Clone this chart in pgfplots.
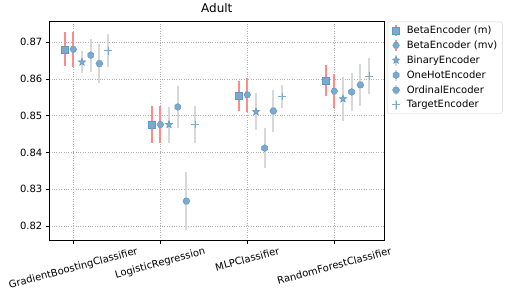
\documentclass[border=0pt]{standalone}
\usepackage{graphicx}
\usepackage{fontspec}
\setmainfont{DejaVu Sans}
\usepackage{pgfplots}
\pgfplotsset{compat=1.18}
\definecolor{mblue}{RGB}{122,170,208}
\definecolor{medge}{RGB}{98,150,196}
\definecolor{ered}{RGB}{250,140,140}
\definecolor{egray}{RGB}{216,216,216}
\definecolor{gridc}{RGB}{176,176,176}
\pgfdeclareplotmark{fstar}{%
  \pgfpathmoveto{\pgfqpointpolar{90}{\pgfplotmarksize}}%
  \pgfpathlineto{\pgfqpointpolar{126}{0.42\pgfplotmarksize}}%
  \pgfpathlineto{\pgfqpointpolar{162}{\pgfplotmarksize}}%
  \pgfpathlineto{\pgfqpointpolar{198}{0.42\pgfplotmarksize}}%
  \pgfpathlineto{\pgfqpointpolar{234}{\pgfplotmarksize}}%
  \pgfpathlineto{\pgfqpointpolar{270}{0.42\pgfplotmarksize}}%
  \pgfpathlineto{\pgfqpointpolar{306}{\pgfplotmarksize}}%
  \pgfpathlineto{\pgfqpointpolar{342}{0.42\pgfplotmarksize}}%
  \pgfpathlineto{\pgfqpointpolar{18}{\pgfplotmarksize}}%
  \pgfpathlineto{\pgfqpointpolar{54}{0.42\pgfplotmarksize}}%
  \pgfpathclose\pgfusepathqfillstroke}
\pgfdeclareplotmark{hexa}{%
  \pgfpathmoveto{\pgfqpointpolar{90}{\pgfplotmarksize}}%
  \pgfpathlineto{\pgfqpointpolar{150}{\pgfplotmarksize}}%
  \pgfpathlineto{\pgfqpointpolar{210}{\pgfplotmarksize}}%
  \pgfpathlineto{\pgfqpointpolar{270}{\pgfplotmarksize}}%
  \pgfpathlineto{\pgfqpointpolar{330}{\pgfplotmarksize}}%
  \pgfpathlineto{\pgfqpointpolar{30}{\pgfplotmarksize}}%
  \pgfpathclose\pgfusepathqfillstroke}
\pgfdeclareplotmark{hexaflat}{%
  \pgfpathmoveto{\pgfqpointpolar{0}{\pgfplotmarksize}}%
  \pgfpathlineto{\pgfqpointpolar{60}{\pgfplotmarksize}}%
  \pgfpathlineto{\pgfqpointpolar{120}{\pgfplotmarksize}}%
  \pgfpathlineto{\pgfqpointpolar{180}{\pgfplotmarksize}}%
  \pgfpathlineto{\pgfqpointpolar{240}{\pgfplotmarksize}}%
  \pgfpathlineto{\pgfqpointpolar{300}{\pgfplotmarksize}}%
  \pgfpathclose\pgfusepathqfillstroke}
\pgfplotsset{
  ebred/.style={legend image code/.code={%
    \path (0,0) (0.5cm,0);
    \draw[solid, line width=1.8pt, ered] (0.2cm,-0.19cm)--(0.2cm,0.19cm);
    \draw[mark repeat=1,##1] plot coordinates {(0.2cm,0cm)};}},
  ebgray/.style={legend image code/.code={%
    \path (0,0) (0.5cm,0);
    \draw[solid, line width=1.8pt, egray] (0.2cm,-0.19cm)--(0.2cm,0.19cm);
    \draw[mark repeat=1,##1] plot coordinates {(0.2cm,0cm)};}},
  enc/.style={only marks, solid, mblue, mark options={solid, fill=mblue, draw=medge, line width=0.5pt}},
  ered bars/.style={error bars/.cd, y dir=both, y explicit, error mark=none, error bar style={solid, line width=2pt, ered}},
  egray bars/.style={error bars/.cd, y dir=both, y explicit, error mark=none, error bar style={solid, line width=2pt, egray}},
}
\begin{document}
\begin{tikzpicture}[font=\fontsize{10}{12}\selectfont]
\useasboundingbox (-49.3pt,-58pt) rectangle (467.7pt,240pt);
\begin{axis}[
  at={(0,0)}, anchor=south west,
  scale only axis, width=335pt, height=218.3pt,
  xmin=-0.276, xmax=3.575, ymin=0.8162, ymax=0.8756,
  xtick={0,1,2,3},
  xticklabels={\rotatebox{15}{GradientBoostingClassifier},\rotatebox{15}{LogisticRegression},\rotatebox{15}{MLPClassifier},\rotatebox{15}{RandomForestClassifier}},
  xticklabel style={anchor=north, inner sep=1pt, yshift=-2pt},
  ytick={0.82,0.83,0.84,0.85,0.86,0.87},
  yticklabel style={/pgf/number format/.cd, fixed, fixed zerofill, precision=2, assume math mode=true},
  /pgf/number format/assume math mode=true,
  tick align=outside, tick pos=left,
  major tick length=3.5pt,
  tick style={black, line width=0.6pt},
  axis line style={black, line width=0.8pt},
  grid=major,
  major grid style={gridc, dotted, line width=0.6pt},
  title={Adult},
  title style={at={(0.5,1)}, anchor=south, inner sep=3pt, font=\fontsize{12}{14}\selectfont},
  legend style={at={(1.008,1.0)}, anchor=north west, draw=gray!35, rounded corners=2pt,
    font=\fontsize{10}{12}\selectfont, row sep=1.8pt, inner xsep=3pt, inner ysep=2pt},
  legend cell align=left,
]
\addplot+[enc, mark=square*, mark size=3.5pt, ebred, ered bars]
  table[x=x, y=y, y error=e] {
x y e
-0.1 0.8681 0.0046
0.9 0.8476 0.0050
1.9 0.8554 0.0040
2.9 0.8596 0.0043
};
\addlegendentry{BetaEncoder (m)}
\addplot+[enc, mark=hexaflat, mark size=3.3pt, ebred, ered bars]
  table[x=x, y=y, y error=e] {
x y e
0.0 0.8681 0.0047
1.0 0.8476 0.0050
2.0 0.8557 0.0046
3.0 0.8567 0.0046
};
\addlegendentry{BetaEncoder (mv)}
\addplot+[enc, mark=fstar, mark size=3.9pt, ebgray, egray bars]
  table[x=x, y=y, y error=e] {
x y e
0.1 0.8646 0.0030
1.1 0.8476 0.0049
2.1 0.8511 0.0050
3.1 0.8546 0.0059
};
\addlegendentry{BinaryEncoder}
\addplot+[enc, mark=hexa, mark size=3.4pt, ebgray, egray bars]
  table[x=x, y=y, y error=e] {
x y e
0.2 0.8665 0.0045
1.2 0.8524 0.0058
2.2 0.8412 0.0055
3.2 0.8565 0.0051
};
\addlegendentry{OneHotEncoder}
\addplot+[enc, mark=hexaflat, mark size=3.5pt, ebgray, egray bars]
  table[x=x, y=y, y error=e] {
x y e
0.3 0.8642 0.0053
1.3 0.8268 0.0079
2.3 0.8513 0.0057
3.3 0.8584 0.0058
};
\addlegendentry{OrdinalEncoder}
\addplot+[enc, mark=+, mark size=3.8pt, mark options={draw=mblue, line width=1pt}, ebgray, egray bars]
  table[x=x, y=y, y error=e] {
x y e
0.4 0.8677 0.0045
1.4 0.8476 0.0050
2.4 0.8552 0.0031
3.4 0.8608 0.0050
};
\addlegendentry{TargetEncoder}
\end{axis}
\end{tikzpicture}
\end{document}
